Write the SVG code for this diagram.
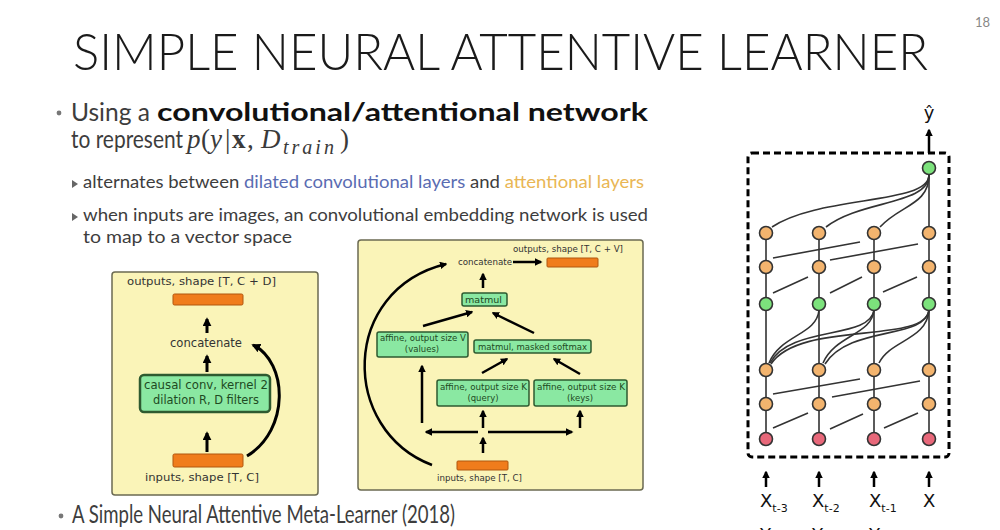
<svg xmlns="http://www.w3.org/2000/svg" width="1000" height="530" viewBox="0 0 1000 530">
<style>
.title{font-family:Lato,"Open Sans","Liberation Sans",sans-serif;font-weight:300;font-size:52px;fill:#1a1a1a}
.body{font-family:Lato,"Open Sans","Liberation Sans",sans-serif;fill:#3d3d3d}
.b1{font-size:25px}
.b2{font-size:17px}
.math{font-family:"Liberation Serif","DejaVu Serif",serif;font-size:27px;fill:#3a3a3a}
.dl{font-family:"DejaVu Sans","Liberation Sans",sans-serif;fill:#333}
.gl{font-family:"DejaVu Sans","Liberation Sans",sans-serif;fill:#1e4a22}
.ybox{fill:#faf4b8;stroke:#6b6a52;stroke-width:1.5}
.obar{fill:#f07c1c;stroke:#b0560e;stroke-width:1}
.gbox{fill:#8ae8a2;stroke:#2e5a30;stroke-width:1.5}
.arr{fill:none;stroke:#000;stroke-width:3;marker-end:url(#ah)}
.arr2{fill:none;stroke:#000;stroke-width:2.5;marker-end:url(#ah)}
.ln{fill:none;stroke:#333;stroke-width:1.6}
.no{fill:#f3b46e;stroke:#333;stroke-width:1.6}
.ng{fill:#7ce27c;stroke:#333;stroke-width:1.6}
.np{fill:#e8687a;stroke:#333;stroke-width:1.6}
.lab{font-family:"DejaVu Sans","Liberation Sans",sans-serif;fill:#111}
</style>
<defs>
<marker id="ah" viewBox="0 0 10 10" refX="8" refY="5" markerWidth="3" markerHeight="3" orient="auto"><path d="M0,0 L10,5 L0,10 z" fill="#000"/></marker>
</defs>
<rect width="1000" height="530" fill="#fff"/>

<g id="header">
<text x="975" y="27" font-family="Lato,'Liberation Sans',sans-serif" font-size="13" fill="#888">18</text>
<text class="title" x="73" y="70" textLength="855" lengthAdjust="spacingAndGlyphs">SIMPLE NEURAL ATTENTIVE LEARNER</text>
</g>

<g id="bullets">
<circle cx="59" cy="113" r="2.4" fill="#777"/>
<text class="body b1" x="71" y="121" textLength="79" lengthAdjust="spacingAndGlyphs">Using a</text>
<text class="body b1" x="157" y="121" font-weight="700" textLength="491" lengthAdjust="spacingAndGlyphs" style="fill:#111">convolutional/attentional network</text>
<text class="body b1" x="71" y="148" textLength="112" lengthAdjust="spacingAndGlyphs">to represent</text>
<text class="math" y="148"><tspan x="187" font-style="italic">p</tspan><tspan x="201">(</tspan><tspan x="210" font-style="italic">y</tspan><tspan x="225">|</tspan><tspan x="232" font-weight="700">x</tspan><tspan x="247">,</tspan><tspan x="261" font-style="italic">D</tspan><tspan x="283" y="154" font-size="20" font-style="italic" letter-spacing="3">train</tspan><tspan x="340" y="148">)</tspan></text>

<polygon points="72,180 78,184 72,188" fill="#666"/>
<text class="body b2" x="83" y="188" textLength="561" lengthAdjust="spacingAndGlyphs">alternates between <tspan style="fill:#5a6cb2">dilated convolutional layers</tspan> and <tspan style="fill:#e9b654">attentional layers</tspan></text>

<polygon points="72,213 78,217 72,221" fill="#666"/>
<text class="body b2" x="83" y="221" textLength="565" lengthAdjust="spacingAndGlyphs">when inputs are images, an convolutional embedding network is used</text>
<text class="body b2" x="83" y="243" textLength="209" lengthAdjust="spacingAndGlyphs">to map to a vector space</text>

<circle cx="61" cy="516" r="2.4" fill="#777"/>
<text class="body b1" x="72" y="523" textLength="383" lengthAdjust="spacingAndGlyphs">A Simple Neural Attentive Meta-Learner (2018)</text>
</g>

<g id="conv-block">
<rect class="ybox" x="112" y="272" width="206" height="223" rx="3"/>
<text class="dl" x="127" y="285" font-size="11" textLength="149" lengthAdjust="spacingAndGlyphs">outputs, shape [T, C + D]</text>
<rect class="obar" x="173" y="294" width="70" height="11" rx="1.5"/>
<text class="dl" x="170" y="347" font-size="11.5" textLength="72" lengthAdjust="spacingAndGlyphs">concatenate</text>
<rect class="gbox" x="140" y="375" width="130" height="37" rx="4" style="stroke-width:2.5"/>
<text class="gl" x="144" y="389" font-size="11.5" textLength="124" lengthAdjust="spacingAndGlyphs">causal conv, kernel 2</text>
<text class="gl" x="153" y="404" font-size="11.5" textLength="106" lengthAdjust="spacingAndGlyphs">dilation R, D filters</text>
<rect class="obar" x="173" y="454" width="70" height="13" rx="1.5"/>
<text class="dl" x="145" y="481" font-size="11" textLength="114" lengthAdjust="spacingAndGlyphs">inputs, shape [T, C]</text>
</g>

<g id="attn-block">
<rect class="ybox" x="358" y="240" width="285" height="250" rx="3"/>
<text class="dl" x="513" y="252" font-size="8.5" textLength="110" lengthAdjust="spacingAndGlyphs">outputs, shape [T, C + V]</text>
<text class="dl" x="458" y="265" font-size="8.5" textLength="54" lengthAdjust="spacingAndGlyphs">concatenate</text>
<rect class="obar" x="547" y="258" width="51" height="9" rx="1"/>
<rect class="gbox" x="462" y="293" width="45" height="13" rx="2"/>
<text class="gl" x="465" y="302.5" font-size="8.5" textLength="37" lengthAdjust="spacingAndGlyphs">matmul</text>
<rect class="gbox" x="377" y="332" width="91" height="25" rx="2"/>
<text class="gl" x="380" y="341" font-size="8.5" textLength="86" lengthAdjust="spacingAndGlyphs">affine, output size V</text>
<text class="gl" x="422" y="352" font-size="8.5" text-anchor="middle">(values)</text>
<rect class="gbox" x="474" y="340" width="117" height="13" rx="2"/>
<text class="gl" x="478" y="349.5" font-size="8.5" textLength="109" lengthAdjust="spacingAndGlyphs">matmul, masked softmax</text>
<rect class="gbox" x="437" y="380" width="92" height="26" rx="2"/>
<text class="gl" x="440" y="390" font-size="8.5" textLength="87" lengthAdjust="spacingAndGlyphs">affine, output size K</text>
<text class="gl" x="483" y="401" font-size="8.5" text-anchor="middle">(query)</text>
<rect class="gbox" x="534" y="380" width="93" height="26" rx="2"/>
<text class="gl" x="537" y="390" font-size="8.5" textLength="88" lengthAdjust="spacingAndGlyphs">affine, output size K</text>
<text class="gl" x="580" y="401" font-size="8.5" text-anchor="middle">(keys)</text>
<rect class="obar" x="457" y="461" width="51" height="9" rx="1"/>
<text class="dl" x="437" y="481" font-size="8.5" textLength="85" lengthAdjust="spacingAndGlyphs">inputs, shape [T, C]</text>
</g>

<g id="block-connectors">
<path class="arr" d="M207,333 V319"/>
<path class="arr" d="M207,372 V356"/>
<path class="arr" d="M207,452 V433"/>
<path class="arr" d="M247,456 C290,430 288,362 253,345"/>

<path class="arr2" d="M513,262 H541"/>
<path class="arr2" d="M483,288 V274"/>
<path class="arr2" d="M423,326 L472,312"/>
<path class="arr2" d="M534,333 L493,313"/>
<path class="arr2" d="M482,373 L507,359"/>
<path class="arr2" d="M580,374 L554,359"/>
<path class="arr2" d="M422,423 V366"/>
<path class="arr2" d="M483,428 V411"/>
<path class="arr2" d="M580,428 V411"/>
<path class="arr2" d="M478,432 H426"/>
<path class="arr2" d="M488,432 H572"/>
<path class="arr2" d="M483,453 V438"/>
<path class="arr2" d="M432,465 C340,430 340,290 446,264"/>
</g>

<g id="snail-connectors">
<rect x="748" y="153" width="201" height="304" rx="4" fill="none" stroke="#000" stroke-width="3" stroke-dasharray="7,4"/>
<path d="M929,153 V130" fill="none" stroke="#000" stroke-width="2.5" marker-end="url(#ah)"/>
<path class="ln" d="M929,175 V226 M766,233 V439 M819,233 V439 M874,233 V439 M929,233 V439"/>
<path class="ln" d="M929,175 C929,205 820,195 772,227"/>
<path class="ln" d="M929,175 C929,205 860,200 826,227"/>
<path class="ln" d="M929,175 C929,205 900,205 880,227"/>
<path class="ln" d="M773,258 L860,242 M830,260 L918,244"/>
<path class="ln" d="M773,293 L808,277 M830,293 L862,277 M883,292 L917,277"/>
<path class="ln" d="M819,310 C817,335 780,335 769,363"/>
<path class="ln" d="M874,310 C870,340 790,325 770,363"/>
<path class="ln" d="M929,310 C925,345 800,320 771,364"/>
<path class="ln" d="M874,310 C872,335 835,335 823,363"/>
<path class="ln" d="M929,310 C925,340 850,325 825,364"/>
<path class="ln" d="M929,310 C927,340 890,340 879,363"/>
<path class="ln" d="M773,394 L860,379 M832,397 L920,381"/>
<path class="ln" d="M773,428 L808,413 M830,429 L863,414 M884,428 L918,413"/>
<path d="M766,487 V472" fill="none" stroke="#000" stroke-width="2.5" marker-end="url(#ah)"/>
<path d="M819,487 V472" fill="none" stroke="#000" stroke-width="2.5" marker-end="url(#ah)"/>
<path d="M874,487 V472" fill="none" stroke="#000" stroke-width="2.5" marker-end="url(#ah)"/>
<path d="M929,487 V472" fill="none" stroke="#000" stroke-width="2.5" marker-end="url(#ah)"/>
</g>

<g id="snail-nodes">
<circle class="ng" cx="929" cy="168" r="6.5"/>
<circle class="no" cx="766" cy="233" r="6.5"/><circle class="no" cx="819" cy="233" r="6.5"/><circle class="no" cx="874" cy="233" r="6.5"/><circle class="no" cx="929" cy="233" r="6.5"/>
<circle class="no" cx="766" cy="267" r="6.5"/><circle class="no" cx="819" cy="267" r="6.5"/><circle class="no" cx="874" cy="267" r="6.5"/><circle class="no" cx="929" cy="267" r="6.5"/>
<circle class="ng" cx="766" cy="304" r="6.5"/><circle class="ng" cx="819" cy="304" r="6.5"/><circle class="ng" cx="874" cy="304" r="6.5"/><circle class="ng" cx="929" cy="304" r="6.5"/>
<circle class="no" cx="766" cy="370" r="6.5"/><circle class="no" cx="819" cy="370" r="6.5"/><circle class="no" cx="874" cy="370" r="6.5"/><circle class="no" cx="929" cy="370" r="6.5"/>
<circle class="no" cx="766" cy="404" r="6.5"/><circle class="no" cx="819" cy="404" r="6.5"/><circle class="no" cx="874" cy="404" r="6.5"/><circle class="no" cx="929" cy="404" r="6.5"/>
<circle class="np" cx="766" cy="439" r="6.5"/><circle class="np" cx="819" cy="439" r="6.5"/><circle class="np" cx="874" cy="439" r="6.5"/><circle class="np" cx="929" cy="439" r="6.5"/>
</g>

<g id="snail-labels">
<text class="lab" x="929" y="119" font-size="18" text-anchor="middle">ŷ</text>
<text class="lab" x="760" y="507" font-size="18">X<tspan font-size="11" dy="5">t-3</tspan></text>
<text class="lab" x="812" y="507" font-size="18">X<tspan font-size="11" dy="5">t-2</tspan></text>
<text class="lab" x="869" y="507" font-size="18">X<tspan font-size="11" dy="5">t-1</tspan></text>
<text class="lab" x="923" y="507" font-size="18">X</text>
<text class="lab" x="760" y="541" font-size="18">Y</text>
<text class="lab" x="812" y="541" font-size="18">Y</text>
<text class="lab" x="869" y="541" font-size="18">Y</text>
</g>
</svg>
